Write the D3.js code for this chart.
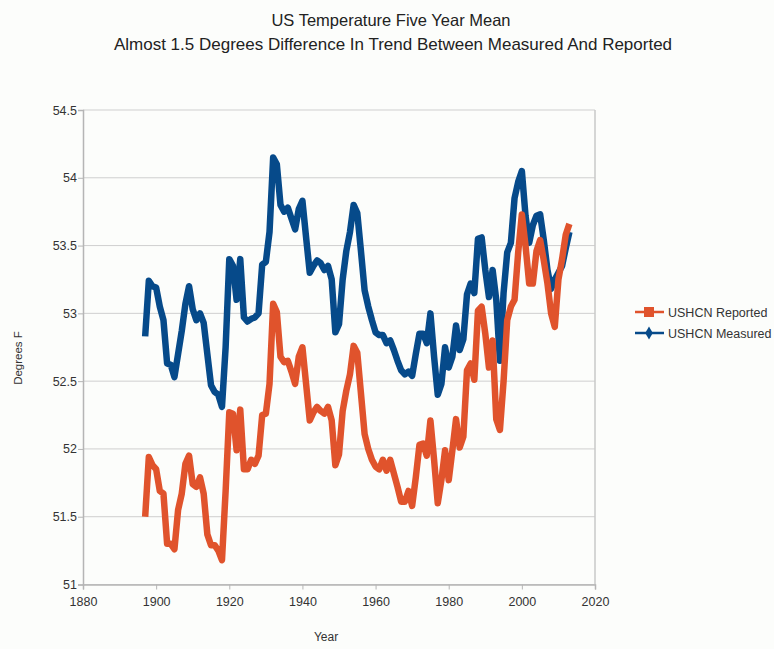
<!DOCTYPE html>
<html><head><meta charset="utf-8">
<script src="https://cdn.jsdelivr.net/npm/d3@7"></script>
<style>body{margin:0;background:#fcfdfb;} svg{display:block;}</style>
</head><body>
<script>
const startYear = 1897;
const reported = [51.50,51.94,51.88,51.85,51.69,51.67,51.30,51.30,51.26,51.55,
51.67,51.89,51.95,51.74,51.72,51.79,51.67,51.37,51.29,51.29,
51.25,51.18,51.69,52.27,52.26,51.99,52.29,51.85,51.85,51.92,
51.89,51.95,52.25,52.26,52.48,53.07,53.01,52.68,52.64,52.65,
52.57,52.48,52.68,52.75,52.48,52.21,52.27,52.31,52.28,52.26,
52.31,52.21,51.88,51.96,52.28,52.43,52.55,52.76,52.71,52.41,
52.11,52.00,51.92,51.87,51.85,51.92,51.84,51.92,51.82,51.72,
51.61,51.61,51.69,51.58,51.79,52.03,52.04,51.95,52.21,51.92,
51.60,51.77,51.99,51.77,51.99,52.22,52.01,52.09,52.58,52.63,
52.51,53.02,53.05,52.85,52.60,52.80,52.22,52.14,52.50,52.95,
53.05,53.10,53.45,53.73,53.50,53.22,53.22,53.46,53.54,53.39,
53.22,53.00,52.90,53.25,53.40,53.58,53.66];
const measured = [52.83,53.24,53.20,53.19,53.05,52.95,52.63,52.62,52.53,52.70,
52.87,53.07,53.20,53.03,52.95,53.00,52.93,52.70,52.47,52.42,
52.40,52.31,52.75,53.40,53.35,53.10,53.40,52.97,52.94,52.96,
52.97,53.00,53.36,53.38,53.60,54.15,54.10,53.80,53.75,53.78,
53.70,53.62,53.77,53.83,53.56,53.30,53.35,53.39,53.37,53.32,
53.35,53.25,52.86,52.92,53.25,53.46,53.60,53.80,53.74,53.46,
53.17,53.05,52.95,52.86,52.84,52.84,52.78,52.80,52.73,52.65,
52.58,52.55,52.57,52.54,52.70,52.85,52.85,52.78,53.00,52.68,
52.40,52.48,52.75,52.60,52.68,52.91,52.73,52.81,53.14,53.22,
53.15,53.55,53.56,53.32,53.12,53.32,53.10,52.65,53.15,53.45,
53.52,53.85,53.97,54.05,53.72,53.52,53.65,53.72,53.73,53.54,
53.32,53.18,53.25,53.30,53.35,53.48,53.60];
const xTicks = [1880,1900,1920,1940,1960,1980,2000,2020];
const yTicks = [51,51.5,52,52.5,53,53.5,54,54.5];
const seriesNames = ["USHCN Reported","USHCN Measured"];

const W = 774, H = 649;
const svg = d3.select("body").append("svg").attr("width", W).attr("height", H);
svg.append("rect").attr("width", W).attr("height", H).attr("fill", "#fcfdfb");

const x = d3.scaleLinear().domain([1880, 2020]).range([83, 595]);
const y = d3.scaleLinear().domain([51, 54.5]).range([584.5, 110]);
const font = "'Liberation Sans', Arial, sans-serif";

svg.append("g").selectAll("line").data(yTicks).join("line")
  .attr("x1", x(1880)).attr("x2", x(2020))
  .attr("y1", d => y(d)).attr("y2", d => y(d))
  .attr("stroke", "#cfcfcf").attr("stroke-width", 1);
svg.append("line").attr("x1", x(2020)).attr("x2", x(2020)).attr("y1", y(54.5)).attr("y2", y(51))
  .attr("stroke", "#c8c8c8").attr("stroke-width", 1.5);

const yAxis = svg.append("g").attr("transform", `translate(${x(1880)},0)`)
  .call(d3.axisLeft(y).tickValues(yTicks).tickSize(5).tickPadding(1).tickFormat(d3.format("")));
const xAxis = svg.append("g").attr("transform", `translate(0,${y(51)})`)
  .call(d3.axisBottom(x).tickValues(xTicks).tickSize(5).tickPadding(8).tickFormat(d3.format("d")));
[yAxis, xAxis].forEach(a => {
  a.select(".domain").attr("stroke", "#b5b5b5").attr("stroke-width", 1.5);
  a.selectAll(".tick line").attr("stroke", "#b5b5b5");
  a.selectAll("text").attr("fill", "#333").style("font-family", font).style("font-size", "12.5px");
});

const years = reported.map((_, i) => startYear + i);
const line = d3.line().x((d, i) => x(years[i])).y(d => y(d));

svg.append("path").datum(measured).attr("d", line).attr("fill", "none")
  .attr("stroke", "#064a8a").attr("stroke-width", 6.5).attr("stroke-linejoin", "round");
svg.append("path").datum(reported).attr("d", line).attr("fill", "none")
  .attr("stroke", "#e0532c").attr("stroke-width", 6.5).attr("stroke-linejoin", "round");

svg.append("text").attr("x", 391).attr("y", 26).attr("text-anchor", "middle")
  .style("font-family", font).style("font-size", "16.5px").attr("fill", "#222")
  .text("US Temperature Five Year Mean");
svg.append("text").attr("x", 393).attr("y", 50).attr("text-anchor", "middle")
  .style("font-family", font).style("font-size", "17px").attr("fill", "#222")
  .text("Almost 1.5 Degrees Difference In Trend Between Measured And Reported");

svg.append("text").attr("x", 326).attr("y", 641).attr("text-anchor", "middle")
  .style("font-family", font).style("font-size", "12px").attr("fill", "#333").text("Year");
svg.append("text").attr("transform", "translate(22,358) rotate(-90)").attr("text-anchor", "middle")
  .style("font-family", font).style("font-size", "11.5px").attr("fill", "#333").text("Degrees F");

const colors = ["#e0532c", "#064a8a"];
const lg = svg.append("g");
seriesNames.forEach((n, i) => {
  const ly = 312 + i * 21;
  lg.append("line").attr("x1", 635).attr("x2", 664).attr("y1", ly).attr("y2", ly)
    .attr("stroke", colors[i]).attr("stroke-width", 2.5);
  if (i === 0) lg.append("rect").attr("x", 644).attr("y", ly - 5).attr("width", 10).attr("height", 10).attr("fill", colors[i]);
  else lg.append("path").attr("d", d3.symbol(d3.symbolDiamond, 50)()).attr("transform", `translate(649,${ly})`).attr("fill", colors[i]);
  lg.append("text").attr("x", 668).attr("y", ly + 5).style("font-family", font).style("font-size", "12.5px")
    .attr("fill", "#333").text(n);
});
</script>
</body></html>
